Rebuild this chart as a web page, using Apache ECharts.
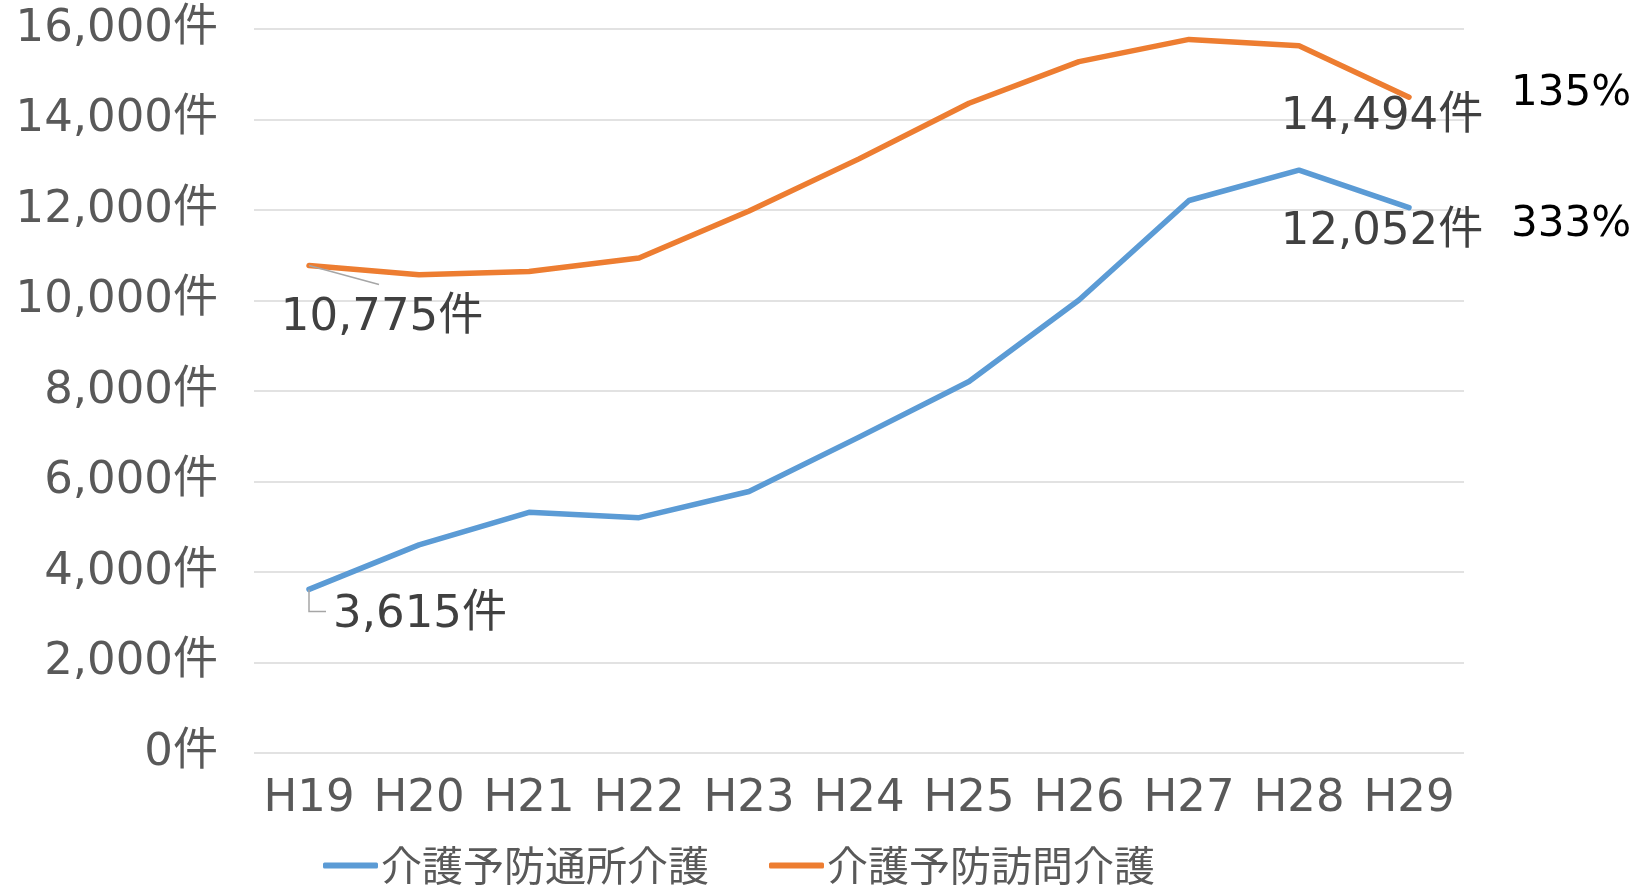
<!DOCTYPE html>
<html><head><meta charset="utf-8">
<script src="https://cdn.jsdelivr.net/npm/echarts@6/dist/echarts.min.js"></script>
<style>html,body{margin:0;padding:0;background:#fff}#c{width:1641px;height:886px}</style>
</head><body><div id="c"></div>
<script>
const categories = ['H19','H20','H21','H22','H23','H24','H25','H26','H27','H28','H29'];
const tsushoValues = [3615, 4600, 5320, 5200, 5780, 6980, 8210, 10010, 12210, 12880, 12052];
const homonValues  = [10775, 10570, 10640, 10940, 11980, 13130, 14360, 15280, 15770, 15630, 14494];
const seriesNames = ['介護予防通所介護', '介護予防訪問介護'];
const yTicks = [0, 2000, 4000, 6000, 8000, 10000, 12000, 14000, 16000];

const FONT = "'DejaVu Sans', 'Noto Sans CJK JP', sans-serif";
const fmt = v => v.toLocaleString('en-US') + '件';
const ratio = arr => Math.round(arr[arr.length-1] / arr[0] * 100) + '%';

function buildData(arr){
  return arr.map((v,i) => ({
    value: v,
    label: {show: i === 0 || i === arr.length-1}
  }));
}

// label offsets (dx, dy) and guide-line shapes relative to the data point
const layouts = {
  0: {0: {dx: 111, dy: 26, guide: [[0,0],[0,22],[17,22]]}, 10: {dx: -27, dy: 25}},
  1: {0: {dx: 73, dy: 53, guide: [[0,0],[70,19]]}, 10: {dx: -27, dy: 20}}
};
function layoutFn(si){
  return p => {
    const l = layouts[si][p.dataIndex];
    return l ? {dx: l.dx, dy: l.dy} : {};
  };
}

const chart = echarts.init(document.getElementById('c'), null, {renderer: 'canvas'});
chart.setOption({
  animation: false,
  grid: {left: 254, right: 177, top: 29, bottom: 133, containLabel: false},
  legend: {
    left: 318, top: 840,
    icon: 'roundRect', itemWidth: 55, itemHeight: 6, itemGap: 60,
    textStyle: {fontFamily: "'Noto Sans CJK JP', sans-serif", fontSize: 41, color: '#595959', padding: [0,0,0,-2]},
    data: seriesNames
  },
  xAxis: {
    type: 'category', data: categories, boundaryGap: true,
    axisLine: {show: false}, axisTick: {show: false},
    axisLabel: {fontFamily: FONT, fontSize: 45, color: '#595959', margin: 24, interval: 0}
  },
  yAxis: {
    type: 'value', min: yTicks[0], max: yTicks[yTicks.length-1], interval: 2000,
    axisLine: {show: false}, axisTick: {show: false},
    splitLine: {lineStyle: {color: '#d9d9d9', width: 1.5}},
    axisLabel: {fontFamily: FONT, fontSize: 45, color: '#595959', margin: 36, formatter: v => fmt(v)}
  },
  series: [
    {
      name: seriesNames[0], type: 'line', data: buildData(tsushoValues), z: 3,
      symbol: 'circle', symbolSize: 0, showSymbol: true,
      lineStyle: {color: '#5B9BD5', width: 5.5, cap: 'round', join: 'round'},
      itemStyle: {color: '#5B9BD5'},
      label: {position: 'inside', fontFamily: FONT, fontSize: 45, color: '#404040', formatter: p => fmt(p.value)},
      labelLayout: layoutFn(0),
      endLabel: {show: true, formatter: () => ratio(tsushoValues), fontFamily: FONT, fontSize: 42, color: '#000', distance: 0, offset: [102, 17]}
    },
    {
      name: seriesNames[1], type: 'line', data: buildData(homonValues), z: 3,
      symbol: 'circle', symbolSize: 0, showSymbol: true,
      lineStyle: {color: '#ED7D31', width: 5.5, cap: 'round', join: 'round'},
      itemStyle: {color: '#ED7D31'},
      label: {position: 'inside', fontFamily: FONT, fontSize: 45, color: '#404040', formatter: p => fmt(p.value)},
      labelLayout: layoutFn(1),
      endLabel: {show: true, formatter: () => ratio(homonValues), fontFamily: FONT, fontSize: 42, color: '#000', distance: 0, offset: [102, -3]}
    }
  ]
});

// leader lines for the first labels, anchored to the points via the chart's own scales
const seriesData = [tsushoValues, homonValues];
const guides = [];
[0, 1].forEach(si => {
  const l = layouts[si][0];
  const pt = chart.convertToPixel({seriesIndex: si}, [0, seriesData[si][0]]);
  guides.push({
    type: 'polyline', z: 10,
    shape: {points: l.guide.map(g => [pt[0] + g[0], pt[1] + g[1]])},
    style: {stroke: '#a6a6a6', lineWidth: 1.5, fill: null}
  });
});
chart.setOption({graphic: guides});
</script></body></html>
